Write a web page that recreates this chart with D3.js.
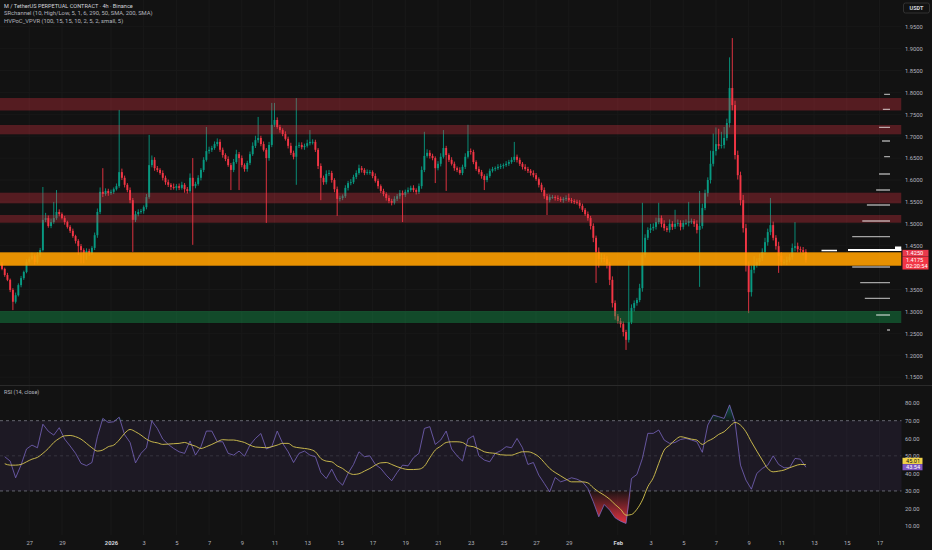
<!DOCTYPE html>
<html><head><meta charset="utf-8">
<script src="https://cdn.jsdelivr.net/npm/d3@7"></script>
<style>
html,body{margin:0;padding:0;background:#121212;overflow:hidden}
svg{display:block}
</style></head><body>
<svg id="chart" width="932" height="550"></svg>
<script>
// ---------------- DATA ----------------
const firstCandle = "2025-12-25T08:00:00Z"; // 4h candles
const firstOpen = 1.409;
const closes = [
1.397,1.383,1.372,1.349,1.322,1.337,1.360,1.376,1.390,1.413,
1.420,1.426,1.413,1.429,1.440,1.509,1.513,1.495,1.504,1.513,
1.527,1.522,1.513,1.504,1.493,1.484,1.472,1.461,1.449,1.440,
1.433,1.438,1.433,1.445,1.474,1.527,1.573,1.568,1.575,1.570,
1.573,1.579,1.586,1.618,1.605,1.589,1.577,1.554,1.509,1.522,
1.527,1.529,1.538,1.561,1.634,1.646,1.627,1.623,1.616,1.605,
1.595,1.589,1.584,1.582,1.586,1.582,1.589,1.579,1.575,1.605,
1.586,1.591,1.605,1.623,1.646,1.666,1.669,1.673,1.682,1.687,
1.669,1.657,1.648,1.634,1.623,1.641,1.659,1.650,1.634,1.625,
1.639,1.659,1.678,1.691,1.696,1.682,1.669,1.650,1.680,1.726,
1.737,1.721,1.714,1.705,1.694,1.678,1.662,1.653,1.678,1.680,
1.675,1.678,1.684,1.687,1.687,1.669,1.632,1.605,1.595,1.614,
1.616,1.600,1.579,1.557,1.559,1.563,1.582,1.593,1.595,1.607,
1.616,1.627,1.623,1.616,1.618,1.618,1.609,1.598,1.586,1.575,
1.568,1.559,1.552,1.548,1.557,1.563,1.570,1.566,1.573,1.577,
1.582,1.577,1.573,1.586,1.623,1.655,1.662,1.655,1.650,1.627,
1.637,1.653,1.673,1.657,1.646,1.637,1.627,1.623,1.616,1.630,
1.653,1.666,1.664,1.641,1.625,1.618,1.609,1.600,1.609,1.621,
1.625,1.627,1.630,1.632,1.634,1.637,1.641,1.646,1.653,1.646,
1.637,1.630,1.625,1.621,1.616,1.611,1.602,1.589,1.577,1.563,
1.554,1.561,1.561,1.559,1.557,1.554,1.557,1.559,1.554,1.552,
1.550,1.548,1.541,1.532,1.522,1.513,1.495,1.468,1.436,1.420,
1.422,1.420,1.408,1.372,1.319,1.289,1.278,1.271,1.253,1.235,
1.276,1.308,1.319,1.326,1.353,1.429,1.468,1.486,1.490,1.493,
1.504,1.513,1.500,1.490,1.486,1.500,1.493,1.500,1.502,1.493,
1.502,1.502,1.506,1.506,1.500,1.486,1.495,1.536,1.570,1.600,
1.637,1.666,1.682,1.678,1.680,1.696,1.730,1.810,1.771,1.657,
1.611,1.554,1.490,1.406,1.344,1.395,1.406,1.413,1.422,1.436,
1.458,1.481,1.497,1.468,1.449,1.427,1.413,1.413,1.417,1.424,
1.445,1.449,1.442,1.440,1.436,1.4175
];
// wick lengths above max(open,close) and below min(open,close), in thousandths of USDT
const upperWick = [
4,3,5,3,4,6,4,5,3,6, 5,8,4,6,5,75,12,6,8,37, 50,6,4,5,3,4,5,3,4,5, 4,6,5,4,6,8,10,54,6,5,
5,4,6,142,8,5,4,6,5,7, 6,5,4,7,69,10,6,5,4,6, 5,6,4,8,5,6,7,4,5,10, 45,5,6,4,6,55,7,5,6,8,
6,5,4,6,5,7,10,5,6,4, 5,6,8,10,48,5,6,4,7,50, 39,6,5,4,6,5,7,5,109,6, 6,5,8,27,6,5,4,6,5,8,
7,5,4,6,5,4,6,5,7,5, 6,8,5,4,6,5,4,6,5,4, 5,4,6,5,6,5,7,6,5,6, 5,6,4,6,8,55,8,6,5,4,
6,8,41,5,4,6,5,4,6,5, 8,60,6,5,4,6,5,4,6,5, 5,4,6,5,4,6,5,6,34,5, 5,4,6,5,4,6,5,4,5,6,
5,6,5,4,6,5,4,6,10,5, 4,5,6,5,4,6,5,6,5,10, 10,8,6,5,8,6,5,7,6,5, 140,8,6,5,10,119,8,6,10,8,
10,35,6,8,5,10,6,32,8,6, 6,8,44,6,5,8,80,10,8,6, 30,40,38,35,30,25,10,70,114,10, 10,8,12,10,8,10,20,8,10,8,
10,8,62,8,6,10,8,6,8,7, 10,55,8,6,7,6
];
const lowerWick = [
3,4,3,5,19,4,3,5,4,3, 4,3,6,4,5,3,5,4,5,4, 4,5,3,6,4,5,4,6,20,30, 23,15,6,4,5,6,5,7,4,6,
4,5,3,4,5,6,5,7,73,5, 5,4,6,5,4,5,6,5,4,6, 6,5,7,4,6,5,4,8,6,4, 134,5,4,6,5,4,6,5,4,5,
5,6,5,4,46,5,4,73,5,6, 6,5,4,5,6,5,4,148,6,5, 5,4,6,5,4,6,5,6,64,5, 5,6,4,5,6,5,7,51,6,5,
5,6,7,39,6,5,4,6,5,4, 5,4,6,5,4,6,5,4,6,5, 5,6,5,6,4,5,6,62,5,4, 4,5,6,5,6,5,4,6,5,34,
5,6,4,82,5,4,6,5,4,5, 5,4,6,5,4,5,6,23,5,4, 4,5,4,5,6,4,5,4,5,6, 5,6,4,5,6,5,4,6,5,6,
34,5,4,6,5,4,6,5,4,5, 5,4,6,5,4,6,8,10,71,20, 8,7,10,12,10,8,6,8,10,23, 6,5,8,6,5,8,6,5,7,6,
6,5,8,6,5,6,7,5,6,8, 6,5,8,6,7,8,130,6,5,8, 8,6,10,8,6,8,6,10,12,10, 10,12,10,15,48,10,8,6,8,7,
6,8,7,6,8,39,8,6,7,5, 6,8,7,6,8,6
];
// SRchannel zones
const zoneLow  = [1.7587, 1.7043, 1.5468, 1.5025, 1.4043, 1.2735];
const zoneHigh = [1.7872, 1.7256, 1.5710, 1.5201, 1.4349, 1.3009];
const zoneKind = ["res", "res", "res", "res", "in", "sup"];
// HVPoC_VPVR rows
const vpPrices  = [1.7957,1.7614,1.7203,1.6890,1.6532,1.6137,1.5772,1.5429,1.5064,1.4705,1.4014,1.3655,1.3299,1.2918,1.2575];
const vpVolumes = [14,17,26,19,14,26,33,55,66,90,90,71,60,33,7];
const pocPrice = 1.4402;
const pocVolume = 100;
// RSI (14, close), sampled every 2nd candle (candle 1+2k)
const rsiValues = [
49.5,47,37.5,44.8,53.9,56.1,54.6,68,64,61.8,
66,59.5,55.6,51.4,45.7,44.4,46.2,60.9,71.3,69,
69.4,72,62,57.6,46,51.4,54.6,69.8,65.6,59.5,
56.5,54.2,52.3,51.4,58.4,50.4,55.2,64.1,64.1,58,
58,51.4,50.4,52.7,49.8,56.1,59.9,62.7,53.9,55.2,
64.1,57.1,52.3,46.2,51.4,52.7,50.4,49.5,40.5,37.1,
42.4,36.2,33.3,40,45.1,52.3,49.5,50,45.1,42.8,
39,35.8,40.5,44.7,44.3,48.9,51.4,65.6,66.6,56.5,
59,64.1,53.9,50,47,59.5,61.4,50,47.6,46.6,
51.4,52.9,55.2,54.6,59.9,54.6,45.1,46.2,39,34.3,
29.5,37.7,35.2,36.2,37.5,36.7,35.2,31.4,23.8,15.3,
22.3,19.1,14.7,12.8,11.5,37.1,39.4,48.5,62.8,62.8,
64.7,59,57.1,57.6,59.3,59.9,59,58,52,67.5,
73.2,72.3,71.3,79,69.4,44.7,36.2,31,40,42.8,
44.7,50,45.1,43.2,43.2,48.5,48.1,43.54
];
const rsiMaValues = [
45.5,44.7,44.7,45.1,46.6,48.1,49.1,51.4,54.2,57.6,
59.9,61.4,61.6,60.9,59.5,57.1,54.6,52.7,53.3,55.2,
56.1,59,62.8,65,63.7,61.8,59.5,58,57.4,56.5,
56.7,56.9,57.1,57.6,56.5,55.5,54.2,55.2,56.5,58,
59.2,59,59,58.4,57.6,56.1,55,54.8,54.6,55.2,
56.1,57.1,57.1,55.2,54.6,54.2,53.7,52.3,48.5,47,
46.6,44.3,42.8,40.5,39.4,39.8,41.3,42.8,44.7,46,
46.2,45.1,43.8,42.8,42.2,42.2,42.4,44.1,48.9,53.3,
55.5,57.6,58,58,57.6,55.7,55.2,53.9,52.3,51.7,
51.4,50.6,50.4,50.4,51.4,52.3,52.3,51.4,49.5,46.2,
42.8,40.5,38.6,36.7,35.2,35.2,35.2,34.6,31.8,29.5,
27.6,25.3,22.3,19.6,16.2,16.6,19.6,24.8,32.4,37.5,
45.7,53.3,56.1,59,60.9,60.3,59.5,59,56.5,58.4,
59.9,62.2,63.7,66.6,69,67.5,63.7,58,52.7,47.6,
42.8,40.9,41.3,41.9,43.2,44.3,45.1,45.01
];
// price-axis labels (1.4000 is hidden behind the last-price tags in the reference)
const priceTicks = [1.95,1.90,1.85,1.80,1.75,1.70,1.65,1.60,1.55,1.50,1.45,1.35,1.30,1.25,1.20,1.15];
const rsiTicks = [80,70,60,50,40,30,20,10];
const dateTicks = ["2025-12-27","2025-12-29","2026-01-01","2026-01-03","2026-01-05","2026-01-07","2026-01-09","2026-01-11","2026-01-13","2026-01-15","2026-01-17","2026-01-19","2026-01-21","2026-01-23","2026-01-25","2026-01-27","2026-01-29","2026-02-01","2026-02-03","2026-02-05","2026-02-07","2026-02-09","2026-02-11","2026-02-13","2026-02-15","2026-02-17"];
const dateLabels = ["27","29","2026","3","5","7","9","11","13","15","17","19","21","23","25","27","29","Feb","3","5","7","9","11","13","15","17"];
const lastPrice = 1.4175, srLabel = 1.4250, countdown = "02:20:54";
const legendLines = ["M / TetherUS PERPETUAL CONTRACT · 4h · Binance","SRchannel (10, High/Low, 5, 1, 6, 290, 50, SMA, 200, SMA)","HVPoC_VPVR (100, 15, 15, 10, 2, 5, 2, small, 5)"];

// ---------------- CHART ----------------
const W = 932, H = 550, plotR = 901.5, paneSep = 385.5, rsiBottom = 535;
const FONT = "Roboto, 'Noto Sans', sans-serif";
const UP = "#089981", DOWN = "#f23645";
const svg = d3.select("#chart");
svg.append("rect").attr("width", W).attr("height", H).attr("fill", "#121212");

const x = d3.scaleUtc()
  .domain([new Date("2026-01-01T00:00:00Z"), new Date("2026-02-01T00:00:00Z")])
  .range([111, 617.85]);
const y = d3.scaleLinear().domain([1.15, 1.95]).range([377.1, 26.7]);
const yr = d3.scaleLinear().domain([10, 70]).range([526.1, 420.7]);
const t0 = Date.parse(firstCandle), H4 = 4 * 3600 * 1000;
const tickDates = dateTicks.map(s => new Date(s + "T00:00:00Z"));

const candles = closes.map((c, i) => {
  const o = i === 0 ? firstOpen : closes[i - 1];
  return { t: new Date(t0 + i * H4), o, c,
           h: Math.max(o, c) + upperWick[i] / 1000,
           l: Math.min(o, c) - lowerWick[i] / 1000 };
});

// grid
const grid = svg.append("g");
grid.selectAll("line.gv").data(tickDates).join("line").attr("class", "gv")
  .attr("x1", d => x(d)).attr("x2", d => x(d)).attr("y1", 0).attr("y2", rsiBottom)
  .attr("stroke", "#191919").attr("stroke-width", 1);
grid.selectAll("line.gh").data(priceTicks).join("line").attr("class", "gh")
  .attr("x1", 0).attr("x2", plotR).attr("y1", d => y(d)).attr("y2", d => y(d))
  .attr("stroke", "#181818").attr("stroke-width", 1);

// main pane clip
const defs = svg.append("defs");
defs.append("clipPath").attr("id", "mainClip").append("rect")
  .attr("x", 0).attr("y", 0).attr("width", plotR).attr("height", paneSep);

const main = svg.append("g").attr("clip-path", "url(#mainClip)");
// candles
const cg = main.append("g");
cg.selectAll("line.wick").data(candles).join("line").attr("class", "wick")
  .attr("x1", d => x(d.t)).attr("x2", d => x(d.t))
  .attr("y1", d => y(d.h)).attr("y2", d => y(d.l))
  .attr("stroke", d => d.c >= d.o ? UP : DOWN).attr("stroke-width", 0.9);
cg.selectAll("rect.body").data(candles).join("rect").attr("class", "body")
  .attr("x", d => x(d.t) - 0.95).attr("width", 1.9)
  .attr("y", d => y(Math.max(d.o, d.c)))
  .attr("height", d => Math.max(0.9, y(Math.min(d.o, d.c)) - y(Math.max(d.o, d.c))))
  .attr("fill", d => d.c >= d.o ? UP : DOWN);

// SR zones (drawn over candles, translucent)
const zoneFill = { res: "rgba(242,54,69,0.30)", in: "rgba(255,160,0,0.90)", sup: "rgba(20,160,80,0.40)" };
main.selectAll("rect.zone").data(zoneLow.map((lo, i) => ({ lo, hi: zoneHigh[i], k: zoneKind[i] })))
  .join("rect").attr("class", "zone")
  .attr("x", 0).attr("width", plotR)
  .attr("y", d => y(d.hi)).attr("height", d => y(d.lo) - y(d.hi))
  .attr("fill", d => zoneFill[d.k]);

// volume profile rows
const vpx = d3.scaleLinear().domain([0, 100]).range([0, 42]);
const vpRight = 890;
main.selectAll("line.vp").data(vpPrices.map((p, i) => ({ p, v: vpVolumes[i] })))
  .join("line").attr("class", "vp")
  .attr("x1", d => vpRight - vpx(d.v)).attr("x2", vpRight)
  .attr("y1", d => y(d.p)).attr("y2", d => y(d.p))
  .attr("stroke", "rgba(255,255,255,0.62)").attr("stroke-width", 1.3);
// PoC
main.append("line").attr("x1", vpRight - vpx(pocVolume)).attr("x2", plotR)
  .attr("y1", y(pocPrice)).attr("y2", y(pocPrice)).attr("stroke", "#ffffff").attr("stroke-width", 2);
main.append("line").attr("x1", 821.5).attr("x2", 837).attr("y1", y(pocPrice) + 0.5).attr("y2", y(pocPrice) + 0.5)
  .attr("stroke", "#ffffff").attr("stroke-width", 1.6);
main.append("rect").attr("x", 895).attr("y", y(pocPrice) - 3.5).attr("width", 6.5).attr("height", 4.5).attr("fill", "#ffffff");

// pane separator
svg.append("line").attr("x1", 0).attr("x2", W).attr("y1", paneSep).attr("y2", paneSep)
  .attr("stroke", "#2a2a2a").attr("stroke-width", 1);

// ---------------- RSI pane ----------------
const rg = svg.append("g");
rg.append("rect").attr("x", 0).attr("width", plotR).attr("y", yr(70)).attr("height", yr(30) - yr(70))
  .attr("fill", "rgba(126,87,194,0.10)");
[70, 30].forEach(v => rg.append("line").attr("x1", 0).attr("x2", plotR).attr("y1", yr(v)).attr("y2", yr(v))
  .attr("stroke", "#787b86").attr("stroke-width", 0.8).attr("stroke-dasharray", "3,3"));
rg.append("line").attr("x1", 0).attr("x2", plotR).attr("y1", yr(50)).attr("y2", yr(50))
  .attr("stroke", "rgba(120,123,134,0.35)").attr("stroke-width", 0.8).attr("stroke-dasharray", "3,3");

const gRed = defs.append("linearGradient").attr("id", "gRed").attr("gradientUnits", "userSpaceOnUse")
  .attr("x1", 0).attr("x2", 0).attr("y1", yr(30)).attr("y2", yr(10));
gRed.append("stop").attr("offset", 0).attr("stop-color", "#f23645").attr("stop-opacity", 0.05);
gRed.append("stop").attr("offset", 1).attr("stop-color", "#f23645").attr("stop-opacity", 1);
const gGrn = defs.append("linearGradient").attr("id", "gGrn").attr("gradientUnits", "userSpaceOnUse")
  .attr("x1", 0).attr("x2", 0).attr("y1", yr(70)).attr("y2", yr(85));
gGrn.append("stop").attr("offset", 0).attr("stop-color", "#089981").attr("stop-opacity", 0.05);
gGrn.append("stop").attr("offset", 1).attr("stop-color", "#089981").attr("stop-opacity", 0.8);

const rsiPts = rsiValues.map((v, k) => ({ x: x(new Date(t0 + (1 + 2 * k) * H4)), v, m: rsiMaValues[k] }));
rg.append("path").datum(rsiPts)
  .attr("d", d3.area().x(d => d.x).y0(yr(30)).y1(d => yr(Math.min(d.v, 30))))
  .attr("fill", "url(#gRed)");
rg.append("path").datum(rsiPts)
  .attr("d", d3.area().x(d => d.x).y0(yr(70)).y1(d => yr(Math.max(d.v, 70))))
  .attr("fill", "url(#gGrn)");
rg.append("path").datum(rsiPts)
  .attr("d", d3.line().x(d => d.x).y(d => yr(d.v)))
  .attr("fill", "none").attr("stroke", "#7b68c4").attr("stroke-opacity", 0.85).attr("stroke-width", 0.9);
rg.append("path").datum(rsiPts)
  .attr("d", d3.line().x(d => d.x).y(d => yr(d.m)).curve(d3.curveMonotoneX))
  .attr("fill", "none").attr("stroke", "#d8c650").attr("stroke-width", 0.9);

// ---------------- Axes ----------------
function styleAxis(g, size) {
  g.select(".domain").remove();
  g.attr("font-size", size).attr("font-family", FONT).attr("color", "#b2b5be");
}
const pa = svg.append("g").attr("transform", "translate(905,0)")
  .call(d3.axisRight(y).tickValues(priceTicks).tickSize(0).tickPadding(0).tickFormat(d3.format(".4f")));
styleAxis(pa, 5.8);
const ra = svg.append("g").attr("transform", "translate(905,0)")
  .call(d3.axisRight(yr).tickValues(rsiTicks).tickSize(0).tickPadding(0).tickFormat(d3.format(".2f")));
styleAxis(ra, 5.8);
const da = svg.append("g").attr("transform", "translate(0,540.8)")
  .call(d3.axisBottom(x).tickValues(tickDates).tickSize(0).tickPadding(0).tickFormat((d, i) => dateLabels[i]));
styleAxis(da, 5.8);
da.selectAll("text").filter((d, i) => dateLabels[i] === "2026" || dateLabels[i] === "Feb")
  .attr("font-weight", 700).attr("fill", "#d1d4dc");

// price tags on the right (TradingView stacks them so they do not collide)
function tagText(yc, txt, col) {
  svg.append("text").attr("x", 906).attr("y", yc).attr("dy", "0.35em").attr("font-family", FONT)
    .attr("font-size", 5.6).attr("fill", col).text(txt);
}
const yLast = y(lastPrice);
const ySr = yLast - 6.8;
svg.append("rect").attr("x", 902.5).attr("y", ySr - 3.3).attr("width", 26).attr("height", 6.6).attr("fill", "#e8394c");
tagText(ySr, d3.format(".4f")(srLabel), "#ffffff");
svg.append("rect").attr("x", 902.5).attr("y", yLast - 3.4).attr("width", 26).attr("height", 13).attr("fill", DOWN);
tagText(yLast, d3.format(".4f")(lastPrice), "#ffffff");
tagText(yLast + 5.9, countdown, "#ffffff");
// RSI value tags
const lastMa = rsiMaValues[rsiMaValues.length - 1], lastRsi = rsiValues[rsiValues.length - 1];
const yRsiTag = yr(lastRsi), yMaTag = yRsiTag - 6.3;
svg.append("rect").attr("x", 902.5).attr("y", yMaTag - 3.1).attr("width", 20).attr("height", 6.2).attr("fill", "#f0d34a");
tagText(yMaTag, d3.format(".2f")(lastMa), "#131313");
svg.append("rect").attr("x", 902.5).attr("y", yRsiTag - 3.1).attr("width", 20).attr("height", 6.2).attr("fill", "#7e57c2");
tagText(yRsiTag, d3.format(".2f")(lastRsi), "#ffffff");

// USDT box
svg.append("rect").attr("x", 903.5).attr("y", 3).attr("width", 26).attr("height", 10).attr("rx", 2)
  .attr("fill", "#121212").attr("stroke", "#3a3a3a").attr("stroke-width", 0.8);
svg.append("text").attr("x", 916.5).attr("y", 8).attr("dy", "0.35em").attr("text-anchor", "middle")
  .attr("font-family", FONT).attr("font-size", 5.5).attr("font-weight", 700).attr("fill", "#d1d4dc").text("USDT");

// legends (sized to the reference widths)
const legendWidths = [129, 148.7, 119.3];
svg.selectAll("text.legend").data(legendLines).join("text").attr("class", "legend")
  .attr("x", 4).attr("y", (d, i) => 8.1 + i * 7.3)
  .attr("font-family", FONT).attr("font-size", 6)
  .attr("fill", (d, i) => i === 0 ? "#d1d4dc" : "#b2b5be").text(d => d)
  .each(function (d, i) {
    const len = this.getComputedTextLength();
    if (len > 0) d3.select(this).attr("font-size", (6 * legendWidths[i] / len).toFixed(2));
  });
const rsiLbl = svg.append("text").attr("x", 4).attr("y", 394.2).attr("font-family", FONT).attr("font-size", 6)
  .attr("fill", "#b2b5be").text("RSI (14, close)");
{ const len = rsiLbl.node().getComputedTextLength(); if (len > 0) rsiLbl.attr("font-size", (6 * 35.3 / len).toFixed(2)); }
</script>
</body></html>
